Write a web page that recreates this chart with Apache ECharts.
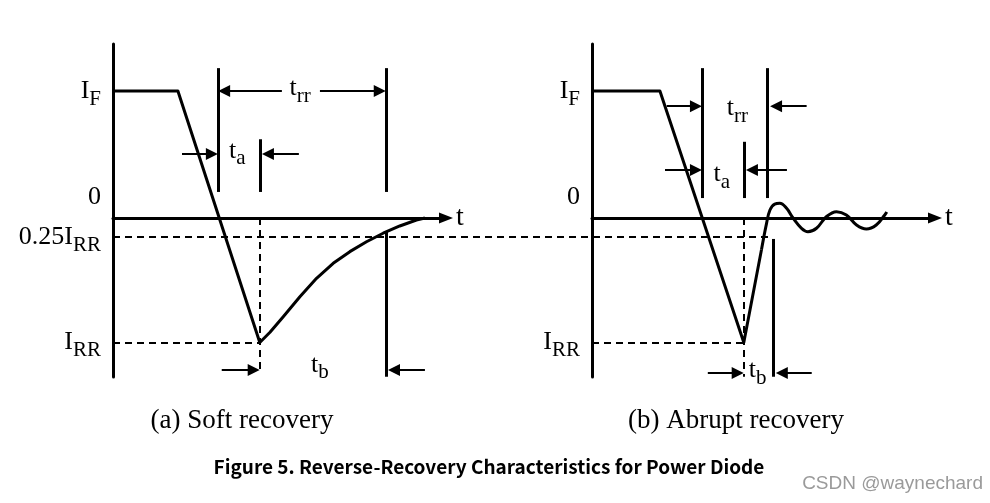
<!DOCTYPE html>
<html><head><meta charset="utf-8">
<script src="https://cdn.jsdelivr.net/npm/echarts@6/dist/echarts.min.js"></script>
<style>html,body{margin:0;padding:0;background:#fff}#c{width:990px;height:503px}</style>
</head><body><div id="c"></div>
<script>
// ---- Current levels (normalised, I_F = 1) ----
const I_F = 1, I_ZERO = 0, I_QUARTER = -0.15, I_RR = -0.98;

// ---- Y tick labels ----
const softTickValues = [I_F, I_ZERO, I_QUARTER, I_RR];
const softTickMain = ['I', '0', '0.25I', 'I'];
const softTickSub = ['F', '', 'RR', 'RR'];
const abruptTickValues = [I_F, I_ZERO, I_RR];
const abruptTickMain = ['I', '0', 'I'];
const abruptTickSub = ['F', '', 'RR'];

// ---- (a) Soft recovery waveform [t, i] ----
const softFall = [[0, 1], [19.1, 1], [43.2, -0.98]];
const softRise = [[43.2, -0.98], [46.2, -0.9], [50.1, -0.777], [55, -0.62], [59.9, -0.475], [64.8, -0.357], [69.7, -0.265], [74.6, -0.187], [79.5, -0.12], [84.4, -0.063], [89.3, -0.016], [91.8, 0]];
// solid vertical markers [t, iTop, iBottom]
const softMarkers = [[30.9, 1.18, 0.205], [80.3, 1.18, 0.205], [43.2, 0.62, 0.205], [80.3, -0.11, -1.25]];
// dashed guides [[t1,i1],[t2,i2]]
const softGuides = [[[0, I_QUARTER], [193.8, I_QUARTER]], [[0, I_RR], [43.2, I_RR]], [[43.2, 0], [43.2, -1.22]]];
// dimension arrows [[tFrom,i],[tTo,i]]
const softArrows = [
  [[49.7, 1.0], [32.7, 1.0]], [[60.9, 1.0], [78.5, 1.0]],
  [[20.3, 0.504], [29.1, 0.504]], [[54.7, 0.504], [45.6, 0.504]],
  [[32, -1.197], [41.4, -1.197]], [[91.8, -1.197], [82.7, -1.197]]
];
const softTimeNames = ['rr', 'a', 'b'];
const softTimePos = [[55.1, 1.02], [36.6, 0.53], [60.9, -1.157]];

// ---- (b) Abrupt recovery waveform ----
const abruptFall = [[0, 1], [20, 1], [44.7, -0.98], [49.9, -0.25]];
const abruptRing = [[49.9, -0.25], [51.4, -0.042], [52.4, 0.063], [53.8, 0.11], [55.3, 0.116], [57.3, 0.076], [59.2, 0], [61.7, -0.081], [63.6, -0.108], [66.1, -0.081], [69, 0.01], [72, 0.05], [74.9, 0.024], [77.9, -0.055], [80.8, -0.087], [83.7, -0.055], [86.2, 0.024], [86.8, 0.047]];
const abruptMarkers = [[32.4, 1.18, 0.157], [51.5, 1.18, 0.157], [44.7, 0.6, 0.157], [53.5, -0.165, -1.25]];
const abruptGuides = [[[0, I_RR], [44.7, I_RR]], [[44.7, 0], [44.7, -1.25]]];
const abruptArrows = [
  [[22, 0.88], [30.6, 0.88]], [[63.2, 0.88], [54.2, 0.88]],
  [[21.5, 0.378], [30.6, 0.378]], [[57.4, 0.378], [47.1, 0.378]],
  [[34.1, -1.22], [42.9, -1.22]], [[64.7, -1.22], [55.9, -1.22]]
];
const abruptTimeNames = ['rr', 'a', 'b'];
const abruptTimePos = [[42.8, 0.866], [38.2, 0.346], [48.8, -1.2]];

// ---- texts ----
const captionA = '(a) Soft recovery';
const captionB = '(b) Abrupt recovery';
const figureTitle = 'Figure 5. Reverse-Recovery Characteristics for Power Diode';
const watermark = 'CSDN @waynechard';

const SERIF = 'Liberation Serif, Times New Roman, serif';
const rich = {
  m: { fontFamily: SERIF, fontSize: 26, color: '#000', verticalAlign: 'middle', textBorderWidth: 0 },
  s: { fontFamily: SERIF, fontSize: 21, color: '#000', padding: [16, 0, 0, 0], textBorderWidth: 0 },
  z: { fontFamily: SERIF, fontSize: 26, color: '#000', padding: [0, 0, 42, 0], textBorderWidth: 0 }
};

function tickFormatter(values, mains, subs) {
  return function (v) {
    let best = 0;
    values.forEach((x, i) => { if (Math.abs(x - v) < Math.abs(values[best] - v)) best = i; });
    if (!subs[best]) return '{z|' + mains[best] + '}';
    return '{m|' + mains[best] + '}{s|' + subs[best] + '}';
  };
}

function xAxisCfg(gi, max) {
  return {
    type: 'value', gridIndex: gi, min: 0, max: max,
    axisLine: { onZero: true, lineStyle: { color: '#000', width: 3 }, symbol: ['none', 'triangle'], symbolSize: [11, 14] },
    axisTick: { show: false }, axisLabel: { show: false }, splitLine: { show: false },
    name: 't', nameLocation: 'end', nameGap: 10,
    nameTextStyle: { fontFamily: SERIF, fontSize: 28, color: '#000' }
  };
}
function yAxisCfg(gi, values, mains, subs) {
  return {
    type: 'value', gridIndex: gi, min: -1.252, max: 1.37,
    axisLine: { show: true, onZero: false, lineStyle: { color: '#000', width: 3 } },
    axisTick: { show: false }, splitLine: { show: false },
    axisLabel: { customValues: values, margin: 12, formatter: tickFormatter(values, mains, subs), rich: rich }
  };
}

const waveStyle = { color: '#000', width: 3, join: 'round' };
function waveSeries(gi, data, smooth) {
  return { type: 'line', xAxisIndex: gi, yAxisIndex: gi, data: data, symbol: 'none', smooth: smooth, lineStyle: waveStyle, clip: false, z: 5, silent: true };
}
function markerSeries(gi, markers) {
  return { type: 'lines', coordinateSystem: 'cartesian2d', xAxisIndex: gi, yAxisIndex: gi, clip: false, silent: true, z: 4,
    data: markers.map(m => ({ coords: [[m[0], m[1]], [m[0], m[2]]] })),
    lineStyle: { color: '#000', width: 3, type: 'solid', opacity: 1 } };
}
function guideSeries(gi, guides) {
  return { type: 'lines', coordinateSystem: 'cartesian2d', xAxisIndex: gi, yAxisIndex: gi, clip: false, silent: true, z: 3,
    data: guides.map(g => ({ coords: g })),
    lineStyle: { color: '#000', width: 2, type: [7, 5], opacity: 1 } };
}
function arrowSeries(gi, arrows) {
  return { type: 'lines', coordinateSystem: 'cartesian2d', xAxisIndex: gi, yAxisIndex: gi, clip: false, silent: true, z: 4,
    symbol: ['none', 'triangle'], symbolSize: 12,
    data: arrows.map(a => ({ coords: a })),
    lineStyle: { color: '#000', width: 2, type: 'solid', opacity: 1 } };
}
function timeLabelSeries(gi, names, pos) {
  return { type: 'scatter', xAxisIndex: gi, yAxisIndex: gi, symbolSize: 0, silent: true, z: 6,
    itemStyle: { color: '#000', opacity: 1 },
    data: pos.map((p, i) => ({ value: p, name: names[i] })),
    label: { show: true, position: 'inside', color: '#000', opacity: 1, textBorderWidth: 0, textShadowBlur: 0,
      formatter: p => '{m|t}{s|' + p.name + '}', rich: rich } };
}

const chart = echarts.init(document.getElementById('c'), null, { renderer: 'canvas' });
chart.setOption({
  animation: false,
  backgroundColor: '#fff',
  grid: [
    { left: 113, top: 44, width: 333, height: 333 },
    { left: 592, top: 44, width: 343, height: 333 }
  ],
  xAxis: [xAxisCfg(0, 98), xAxisCfg(1, 101)],
  yAxis: [yAxisCfg(0, softTickValues, softTickMain, softTickSub), yAxisCfg(1, abruptTickValues, abruptTickMain, abruptTickSub)],
  series: [
    guideSeries(0, softGuides), markerSeries(0, softMarkers), arrowSeries(0, softArrows),
    waveSeries(0, softFall, false), waveSeries(0, softRise, false), timeLabelSeries(0, softTimeNames, softTimePos),
    guideSeries(1, abruptGuides), markerSeries(1, abruptMarkers), arrowSeries(1, abruptArrows),
    waveSeries(1, abruptFall, false), waveSeries(1, abruptRing, 0.4), timeLabelSeries(1, abruptTimeNames, abruptTimePos)
  ],
  graphic: [
    { type: 'text', x: 242, y: 421, style: { text: captionA, font: '27px ' + SERIF, fill: '#000', align: 'center', verticalAlign: 'middle' } },
    { type: 'text', x: 736, y: 421, style: { text: captionB, font: '27px ' + SERIF, fill: '#000', align: 'center', verticalAlign: 'middle' } },
    { type: 'text', x: 489, y: 467, style: { text: figureTitle, font: 'bold 19px "Noto Sans CJK SC", sans-serif', fill: '#000', align: 'center', verticalAlign: 'middle' } },
    { type: 'text', x: 983, y: 484, style: { text: watermark, font: '19px "Liberation Sans", Arial, sans-serif', fill: '#9a9a9a', align: 'right', verticalAlign: 'middle' } }
  ]
});
</script></body></html>
